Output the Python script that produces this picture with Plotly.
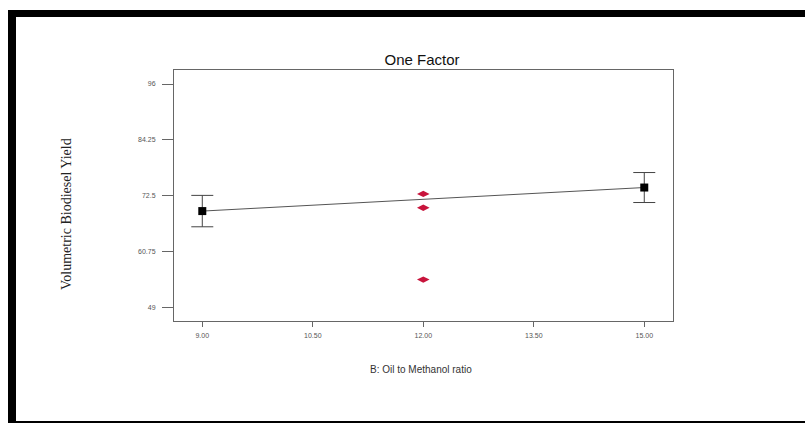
import plotly.graph_objects as go

# Factor levels and model predictions with their confidence half-widths
ratio_levels = [9.0, 15.0]
predicted_yield = [69.3, 74.25]
interval_half = [3.3, 3.15]

# Observed centre-point runs
centre_ratio = [12.0, 12.0, 12.0]
centre_yield = [72.9, 70.0, 54.9]

y_ticks = [49, 60.75, 72.5, 84.25, 96]
y_tick_text = ["49", "60.75", "72.5", "84.25", "96"]
x_ticks = [9.0, 10.5, 12.0, 13.5, 15.0]

W, H = 805, 423
L, R, T, B = 174, 673, 70, 321


def px(x):
    return (x - L) / (R - L)


def py(y):
    return 1 - (y - T) / (B - T)


fig = go.Figure()

fig.add_trace(go.Scatter(
    x=ratio_levels, y=predicted_yield, mode="lines+markers",
    line=dict(color="#555555", width=1),
    marker=dict(symbol="square", size=8, color="black"),
    error_y=dict(type="data", array=interval_half, color="#444444",
                 thickness=1, width=11),
    showlegend=False, hoverinfo="x+y",
))

fig.add_trace(go.Scatter(
    x=centre_ratio, y=centre_yield, mode="markers",
    marker=dict(symbol="diamond-wide", size=9, color="#c8143c"),
    showlegend=False,
))

axis_common = dict(
    showgrid=False, zeroline=False, showline=True, linecolor="#666666",
    linewidth=1, mirror=True, ticks="outside", tickcolor="#666666",
    tickfont=dict(family="Liberation Sans", size=7, color="#555555"),
)

fig.update_xaxes(range=[8.616, 15.39], tickvals=x_ticks,
                 tickformat=".2f", ticklen=5, ticklabelstandoff=3,
                 **axis_common)
fig.update_yaxes(range=[46.2, 98.95], tickvals=y_ticks,
                 ticktext=y_tick_text, ticklen=11, ticklabelstandoff=5,
                 **axis_common)

fig.update_layout(
    width=W, height=H,
    margin=dict(l=L, r=W - R, t=T, b=H - B),
    paper_bgcolor="white", plot_bgcolor="white",
    title=dict(text="One Factor", x=px(422), xref="paper",
               xanchor="center", y=1 - 60 / H, yanchor="middle",
               font=dict(family="Liberation Sans", size=15, color="#111111")),
)

fig.add_annotation(
    text="Volumetric Biodiesel Yield", xref="paper", yref="paper",
    x=px(66), y=py(214), textangle=-90, showarrow=False,
    xanchor="center", yanchor="middle",
    font=dict(family="Liberation Serif", size=14, color="#222222"),
)
fig.add_annotation(
    text="B: Oil to Methanol ratio", xref="paper", yref="paper",
    x=px(421), y=py(369), showarrow=False,
    xanchor="center", yanchor="middle",
    font=dict(family="Liberation Sans", size=10, color="#333333"),
)

# Heavy black frame on top, left and bottom of the figure
for x0, y0, x1, y1 in [(8, 10, 805, 17), (8, 10, 16, 423), (8, 421, 805, 423)]:
    fig.add_shape(type="rect", xref="paper", yref="paper",
                  x0=px(x0), x1=px(x1), y0=py(y0), y1=py(y1),
                  fillcolor="black", line=dict(width=0), layer="above")

fig.write_html("out.html")
